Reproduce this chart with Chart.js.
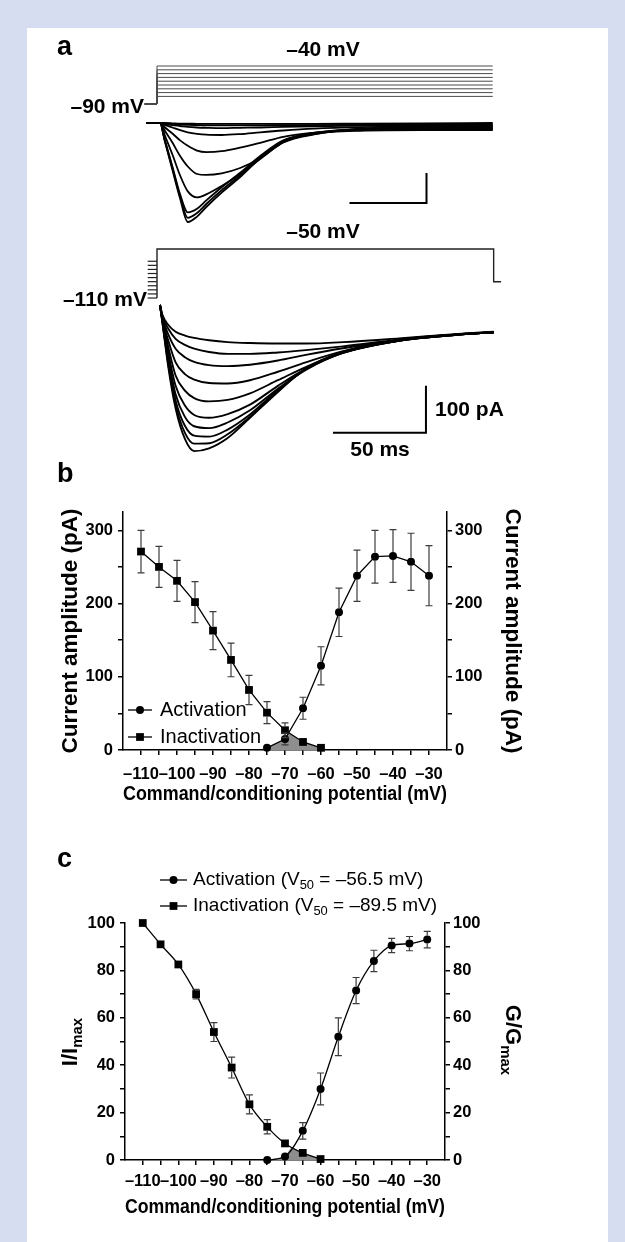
<!DOCTYPE html>
<html>
<head>
<meta charset="utf-8">
<title>Activation and inactivation currents</title>
<script src="https://cdn.jsdelivr.net/npm/chart.js@4.4.1/dist/chart.umd.min.js"></script>
<style>
  html, body { margin: 0; padding: 0; background: #d6ddf0; }
  #wrap { position: relative; width: 625px; height: 1242px; overflow: hidden; }
  #sheet { position: absolute; left: 27px; top: 28px; width: 581px; height: 1214px; background: #fff; }
  canvas { position: absolute; left: 0; }
</style>
</head>
<body>
<div id="wrap">
  <div id="sheet"></div>
  <canvas id="chartA" width="625" height="440" style="top:30px"></canvas>
  <canvas id="chartB" width="625" height="365" style="top:455px"></canvas>
  <canvas id="chartC" width="625" height="390" style="top:840px"></canvas>
</div>
<script>
// ---- panel a: example traces ----
// activation protocol: hold -90 mV, step to actSteps
var tTop = [-7, 2, 5, 10, 15, 20, 26, 32, 42, 54, 67, 82, 102, 132, 172, 218]; // ms
var actTraces = [                                                             // pA
  [0, 0, -59, -156, -252, -330, -312, -280, -232, -180, -118, -62, -36, -26, -24, -24],
  [0, 0, -57, -150, -245, -316, -300, -270, -224, -174, -114, -60, -34, -24, -22, -22],
  [0, 0, -55, -145, -238, -298, -286, -258, -214, -166, -110, -58, -33, -22, -20, -19],
  [0, 0, -40, -105, -175, -228, -248, -238, -210, -170, -120, -64, -37, -21, -18, -17],
  [0, 0, -25, -65, -110, -145, -170, -173, -168, -150, -118, -65, -38, -20, -16, -15],
  [0, 0, -14, -35, -58, -76, -92, -97, -94, -82, -66, -46, -32, -19, -14, -12],
  [0, 0, -6, -15, -24, -31, -36, -39, -40, -37, -31, -25, -19, -14, -11, -10],
  [0, 0, -3, -7, -10, -13, -15, -16, -17, -16, -15, -13, -11, -9, -8, -7],
  [0, 0, -1, -3, -5, -6, -7, -8, -8, -8, -8, -7, -7, -6, -5, -4],
  [0, 0, 0, -1, -2, -2, -3, -3, -3, -3, -3, -3, -3, -2, -1, 0]
];
var actHold = -90;
var actSteps = [-80, -75, -70, -65, -60, -55, -50, -45, -40];
var actPulse = [-8, 218];            // ms, holding start / step end

// inactivation protocol: conditioning condSteps, test pulse -50 mV
var tBot = [1.6, 3, 6, 10, 15, 20, 28, 38, 50, 65, 80, 100, 130, 160, 181];
var inactTraces = [
  [0, -22, -42, -57, -65, -70, -75, -79, -81, -82, -82, -79, -71, -62, -57],
  [0, -25, -50, -72, -85, -93, -100, -104, -104, -101, -96, -88, -74, -63, -58],
  [0, -28, -62, -93, -111, -121, -128, -130, -127, -118, -106, -92, -75, -63, -58],
  [0, -30, -75, -122, -147, -159, -166, -167, -160, -142, -122, -98, -76, -64, -58],
  [0, -32, -88, -150, -182, -198, -205, -202, -188, -160, -132, -101, -76, -64, -58],
  [0, -34, -100, -172, -214, -234, -240, -232, -212, -172, -136, -102, -76, -64, -58],
  [0, -36, -110, -190, -238, -258, -262, -250, -224, -178, -138, -102, -76, -64, -58],
  [0, -37, -118, -203, -257, -278, -280, -265, -233, -181, -137, -101, -75, -63, -58],
  [0, -39, -124, -212, -272, -295, -294, -275, -238, -183, -136, -101, -75, -63, -58],
  [0, -40, -130, -220, -285, -311, -305, -283, -240, -185, -135, -100, -74, -63, -58]
];
var testPulse = -50, testHold = -90;
var testTimes = [-5, 181, 185];       // ms: conditioning start, step end, trace end
var condSteps = [-110, -105, -100, -95, -90, -85, -80, -75, -70, -65];

// scale bars (corner position, 50 ms x 100 pA)
var barTop = { t: 175, i: -267 };
var barBot = { t: 144.6, i: -272 };

// ---- panel b: current amplitude ----
var potInact = [-110, -105, -100, -95, -90, -85, -80, -75, -70, -65, -60];
var ampInact = [271, 250, 231, 202, 163, 123, 82, 51, 27, 11, 3];
var semInact = [29, 28, 28, 28, 26, 23, 20, 15, 10, 3, 2];
var potAct = [-75, -70, -65, -60, -55, -50, -45, -40, -35, -30];
var ampAct = [3, 15, 57, 115, 188, 238, 264, 265, 257, 238];
var semAct = [5, 8, 15, 26, 33, 35, 36, 36, 39, 41];
var ampTicks = [0, 50, 100, 150, 200, 250, 300];

// ---- panel c: normalised ----
var normInact = [100, 91, 82.5, 70, 54, 39, 23.5, 14, 7, 3, 0.4];
var semNormInact = [0, 1, 1.5, 2, 4, 4.4, 4, 3, 1.5, 1, 0.5];
var normAct = [0, 1.5, 12.3, 30, 52, 71.5, 84, 90.5, 91.3, 93];
var semNormAct = [0, 0.5, 3.5, 6.7, 8, 5.5, 4.5, 3, 3, 3.5];
var normTicks = [0, 10, 20, 30, 40, 50, 60, 70, 80, 90, 100];
var potTicks = [-110, -105, -100, -95, -90, -85, -80, -75, -70, -65, -60, -55, -50, -45, -40, -35, -30];

var FONT = "'Liberation Sans', Arial, Helvetica, sans-serif";
Chart.defaults.font.family = FONT;
Chart.defaults.color = '#000';

function fmt(v) { return v < 0 ? '\u2013' + Math.abs(v) : String(v); }
function pairs(xs, ys) { return xs.map(function (x, i) { return { x: x, y: ys[i] }; }); }
function fontStr(size, bold) { return (bold ? 'bold ' : '') + size + 'px ' + FONT; }

// value range so that v0 sits on pixel p0 with k px per unit
function vRange(h, p0, v0, k) { return { min: v0 - (h - p0) / k, max: v0 + p0 / k }; }
function hRange(w, p0, v0, k) { return { min: v0 - p0 / k, max: v0 + (w - p0) / k }; }
function hidden(axis, r) { return { type: 'linear', axis: axis, display: false, min: r.min, max: r.max }; }

function lerp(xs, ys, x) {
  for (var i = 0; i < xs.length - 1; i++) {
    if (x >= xs[i] && x <= xs[i + 1]) return ys[i] + (ys[i + 1] - ys[i]) * (x - xs[i]) / (xs[i + 1] - xs[i]);
  }
  return null;
}
// region under both curves (shaded window current)
function overlapArea(xa, ya, xb, yb) {
  var lo = Math.max(xa[0], xb[0]), hi = Math.min(xa[xa.length - 1], xb[xb.length - 1]);
  var xs = xa.concat(xb).filter(function (x) { return x >= lo && x <= hi; })
    .sort(function (p, q) { return p - q; })
    .filter(function (x, i, arr) { return i === 0 || x !== arr[i - 1]; });
  var pts = [];
  xs.forEach(function (x, i) {
    if (i > 0) {
      var x0 = xs[i - 1];
      var d0 = lerp(xa, ya, x0) - lerp(xb, yb, x0), d1 = lerp(xa, ya, x) - lerp(xb, yb, x);
      if (d0 * d1 < 0) {
        var xc = x0 + (x - x0) * d0 / (d0 - d1);
        pts.push({ x: xc, y: lerp(xa, ya, xc) });
      }
    }
    pts.push({ x: x, y: Math.min(lerp(xa, ya, x), lerp(xb, yb, x)) });
  });
  return pts;
}

function drawRich(ctx, parts, size, bold, align) {
  var widths = parts.map(function (p) {
    ctx.font = fontStr(p.sub ? size * 0.68 : size, bold);
    return ctx.measureText(p.text).width;
  });
  var total = widths.reduce(function (a, b) { return a + b; }, 0);
  var x = align === 'center' ? -total / 2 : align === 'right' ? -total : 0;
  ctx.textAlign = 'left';
  parts.forEach(function (p, i) {
    ctx.font = fontStr(p.sub ? size * 0.68 : size, bold);
    ctx.fillText(p.text, x, p.sub ? size * 0.3 : 0);
    x += widths[i];
  });
}

function drawMarker(ctx, style, x, y, r) {
  ctx.beginPath();
  if (style === 'rect') {
    var s = r * Math.SQRT1_2;
    ctx.rect(x - s, y - s, 2 * s, 2 * s);
  } else {
    ctx.arc(x, y, r, 0, Math.PI * 2);
  }
  ctx.fill();
}

// texts and legend keys in page coordinates
function labels(id, top, items, marks) {
  return {
    id: id,
    afterDraw: function (chart) {
      var ctx = chart.ctx;
      (marks || []).forEach(function (m) {
        ctx.save();
        ctx.strokeStyle = '#000'; ctx.fillStyle = '#000'; ctx.lineWidth = 1.3;
        ctx.beginPath(); ctx.moveTo(m.x0, m.y - top); ctx.lineTo(m.x1, m.y - top); ctx.stroke();
        drawMarker(ctx, m.style, (m.x0 + m.x1) / 2, m.y - top, m.r);
        ctx.restore();
      });
      items.forEach(function (t) {
        ctx.save();
        ctx.fillStyle = '#000';
        ctx.textBaseline = t.base || 'middle';
        ctx.translate(t.x, t.y - top);
        if (t.rot) ctx.rotate(t.rot);
        drawRich(ctx, t.parts || [{ text: t.text }], t.size, t.bold, t.align || 'left');
        ctx.restore();
      });
    }
  };
}

var errorBars = {
  id: 'errorBars',
  afterDatasetsDraw: function (chart) {
    var ctx = chart.ctx;
    chart.data.datasets.forEach(function (ds, i) {
      if (!ds.errors) return;
      var meta = chart.getDatasetMeta(i), ys = chart.scales[meta.yAxisID];
      var edge = ds.pointStyle === 'rect' ? ds.pointRadius * Math.SQRT1_2 : ds.pointRadius;
      ctx.save();
      ctx.strokeStyle = '#3c3c3c'; ctx.lineWidth = 1.2;
      meta.data.forEach(function (pt, j) {
        var e = ds.errors[j];
        if (!e) return;
        var v = ds.data[j].y;
        var yHi = ys.getPixelForValue(v + e), yLo = ys.getPixelForValue(Math.max(v - e, ys.min));
        ctx.beginPath();
        if (yHi < pt.y - edge) {
          ctx.moveTo(pt.x, pt.y - edge); ctx.lineTo(pt.x, yHi);
          ctx.moveTo(pt.x - 3.5, yHi); ctx.lineTo(pt.x + 3.5, yHi);
        }
        if (yLo > pt.y + edge) {
          ctx.moveTo(pt.x, pt.y + edge); ctx.lineTo(pt.x, yLo);
          ctx.moveTo(pt.x - 3.5, yLo); ctx.lineTo(pt.x + 3.5, yLo);
        }
        ctx.stroke();
      });
      ctx.restore();
    });
  }
};

function line(data, xId, yId, color, width, smooth) {
  return {
    data: data, xAxisID: xId, yAxisID: yId, borderColor: color, borderWidth: width,
    pointRadius: 0, fill: false, clip: false,
    tension: smooth ? 0.4 : 0, cubicInterpolationMode: smooth ? 'monotone' : 'default'
  };
}

function marked(xs, ys, errs, style, r, smooth) {
  return {
    data: pairs(xs, ys), errors: errs, borderColor: '#000', borderWidth: 1.3,
    pointStyle: style, pointRadius: r, pointBackgroundColor: '#000', pointBorderColor: '#000',
    pointBorderWidth: 0, fill: false, clip: false, order: 1,
    tension: smooth ? 0.4 : 0, cubicInterpolationMode: smooth ? 'monotone' : 'default'
  };
}

var tickFont = { size: 16.5, weight: 'bold' };
var frame = { color: '#000', width: 1.5 };
var gridOpts = { drawOnChartArea: false, drawTicks: true, tickLength: 5, color: '#000', lineWidth: 1.5 };

function xAxis(tickPad, titlePad) {
  return {
    type: 'linear', position: 'bottom', min: -115, max: -25,
    afterBuildTicks: function (s) { s.ticks = potTicks.map(function (v) { return { value: v }; }); },
    afterFit: function (s) { s.height = 70; },
    ticks: {
      autoSkip: false, maxRotation: 0, minRotation: 0, padding: tickPad, font: tickFont,
      callback: function (v) { return v % 10 === 0 ? fmt(v) : ''; }
    },
    grid: gridOpts, border: frame,
    title: { display: true, text: 'Command/conditioning potential (mV)', font: { size: 20.5, weight: 'bold' }, padding: { top: 0, bottom: titlePad } }
  };
}

function yAxis(pos, width, max, ticks, every, tickPad, title, titlePad) {
  return {
    type: 'linear', position: pos, min: 0, max: max,
    afterBuildTicks: function (s) { s.ticks = ticks.map(function (v) { return { value: v }; }); },
    afterFit: function (s) { s.width = width; },
    ticks: { padding: tickPad, font: tickFont, callback: function (v) { return v % every === 0 ? String(v) : ''; } },
    grid: gridOpts, border: frame,
    title: { display: !!title, text: title || '', font: { size: 22.5, weight: 'bold' }, padding: { top: titlePad, bottom: 0 } }
  };
}

function baseOptions(padTop, scales) {
  return {
    responsive: false, animation: false, devicePixelRatio: 1, events: [],
    layout: { padding: { top: padTop, left: 0, right: 0, bottom: 0 }, autoPadding: false },
    plugins: { legend: { display: false }, tooltip: { enabled: false } },
    scales: scales
  };
}

// ---------- chart a ----------
var aSets = [];
actSteps.forEach(function (v) {
  aSets.push(line([{ x: actPulse[0], y: actHold }, { x: 0, y: actHold }, { x: 0, y: v }, { x: actPulse[1], y: v }],
    'xTop', 'yVTop', '#4a4a4a', 1, false));
});
actTraces.forEach(function (tr) { aSets.push(line(pairs(tTop, tr), 'xTop', 'yITop', '#000', 1.8, true)); });
condSteps.forEach(function (v) {
  aSets.push(line([{ x: testTimes[0], y: v }, { x: 0, y: v }], 'xBot', 'yVBot', '#222', 1.2, false));
});
aSets.push(line([{ x: 0, y: condSteps[0] }, { x: 0, y: testPulse }, { x: testTimes[1], y: testPulse },
  { x: testTimes[1], y: testHold }, { x: testTimes[2], y: testHold }], 'xBot', 'yVBot', '#222', 1.4, false));
inactTraces.forEach(function (tr) { aSets.push(line(pairs(tBot, tr), 'xBot', 'yIBot', '#000', 1.9, true)); });
aSets.push(line([{ x: barTop.t, y: barTop.i + 100 }, { x: barTop.t, y: barTop.i }, { x: barTop.t - 50, y: barTop.i }],
  'xTop', 'yITop', '#000', 2, false));
aSets.push(line([{ x: barBot.t, y: barBot.i + 100 }, { x: barBot.t, y: barBot.i }, { x: barBot.t - 50, y: barBot.i }],
  'xBot', 'yIBot', '#000', 2, false));

new Chart(document.getElementById('chartA'), {
  type: 'line',
  data: { datasets: aSets },
  options: baseOptions(0, {
    xTop: hidden('x', hRange(625, 157, 0, 1.54)),
    xBot: hidden('x', hRange(625, 157, 0, 1.86)),
    yITop: hidden('y', vRange(440, 93, 0, 0.3)),
    yVTop: hidden('y', vRange(440, 74, -90, 0.76)),
    yIBot: hidden('y', vRange(440, 275, 0, 0.47)),
    yVBot: hidden('y', vRange(440, 219, -50, 0.817))
  }),
  plugins: [labels('labelsA', 30, [
    { text: 'a', x: 57, y: 55, size: 27, bold: true, base: 'alphabetic' },
    { text: '\u201340 mV', x: 323, y: 50, size: 21, bold: true, align: 'center' },
    { text: '\u201390 mV', x: 144, y: 107, size: 21, bold: true, align: 'right' },
    { text: '\u201350 mV', x: 323, y: 232, size: 21, bold: true, align: 'center' },
    { text: '\u2013110 mV', x: 147, y: 300, size: 21, bold: true, align: 'right' },
    { text: '100 pA', x: 435, y: 410, size: 21, bold: true },
    { text: '50 ms', x: 380, y: 450, size: 21, bold: true, align: 'center' }
  ])]
});

// ---------- chart b ----------
new Chart(document.getElementById('chartB'), {
  type: 'line',
  data: {
    datasets: [
      { data: overlapArea(potAct, ampAct, potInact, ampInact), fill: 'origin', backgroundColor: '#8e8e8e',
        borderWidth: 0, pointRadius: 0, order: 3, clip: false },
      marked(potAct, ampAct, semAct, 'circle', 4, false),
      marked(potInact, ampInact, semInact, 'rect', 5.5, false)
    ]
  },
  options: baseOptions(57, {
    x: xAxis(10, 13),
    y: yAxis('left', 123, 325, ampTicks, 100, 5, 'Current amplitude (pA)', 57),
    y2: yAxis('right', 178, 325, ampTicks, 100, 3, 'Current amplitude (pA)', 99)
  }),
  plugins: [errorBars, labels('labelsB', 455, [
    { text: 'b', x: 57, y: 482, size: 27, bold: true, base: 'alphabetic' },
    { text: 'Activation', x: 160, y: 710, size: 20 },
    { text: 'Inactivation', x: 160, y: 737, size: 20 }
  ], [
    { style: 'circle', x0: 128, x1: 152, y: 710, r: 4 },
    { style: 'rect', x0: 128, x1: 152, y: 737, r: 5.5 }
  ])]
});

// ---------- chart c ----------
new Chart(document.getElementById('chartC'), {
  type: 'line',
  data: {
    datasets: [
      { data: overlapArea(potAct, normAct, potInact, normInact), fill: 'origin', backgroundColor: '#8e8e8e',
        borderWidth: 0, pointRadius: 0, order: 3, clip: false },
      marked(potAct, normAct, semNormAct, 'circle', 4, true),
      marked(potInact, normInact, semNormInact, 'rect', 5.5, true)
    ]
  },
  options: baseOptions(83, {
    x: xAxis(7, 10),
    y: yAxis('left', 125, 100, normTicks, 20, 5, null, 0),
    y2: yAxis('right', 180, 100, normTicks, 20, 3, null, 0)
  }),
  plugins: [errorBars, labels('labelsC', 840, [
    { text: 'c', x: 57, y: 867, size: 27, bold: true, base: 'alphabetic' },
    { parts: [{ text: 'Activation (V' }, { text: '50', sub: true }, { text: ' = \u201356.5 mV)' }], x: 193, y: 880, size: 19 },
    { parts: [{ text: 'Inactivation (V' }, { text: '50', sub: true }, { text: ' = \u201389.5 mV)' }], x: 193, y: 906, size: 19 },
    { parts: [{ text: 'I/I' }, { text: 'max', sub: true }], x: 71, y: 1042, size: 22, bold: true, align: 'center', rot: -Math.PI / 2 },
    { parts: [{ text: 'G/G' }, { text: 'max', sub: true }], x: 512, y: 1040, size: 22, bold: true, align: 'center', rot: Math.PI / 2 }
  ], [
    { style: 'circle', x0: 160, x1: 187, y: 880, r: 4 },
    { style: 'rect', x0: 160, x1: 187, y: 906, r: 5.5 }
  ])]
});
</script>
</body>
</html>
